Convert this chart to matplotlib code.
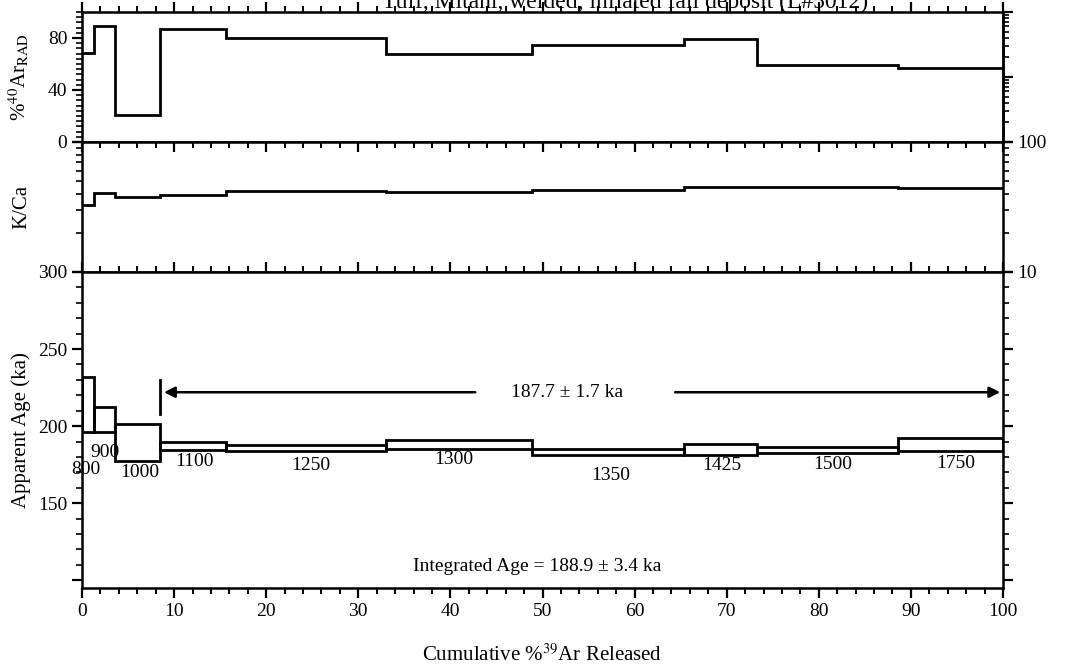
import matplotlib.pyplot as plt
from matplotlib.ticker import MultipleLocator, NullFormatter, FixedLocator
import numpy as np

plt.rcParams['font.family'] = ['Liberation Serif', 'DejaVu Serif']
plt.rcParams['mathtext.fontset'] = 'stix'

# heating steps
temps = ['800', '900', '1000', '1100', '1250', '1300', '1350', '1425', '1500', '1750']
cum39 = [0, 1.3, 3.6, 8.5, 15.6, 33.0, 48.9, 65.4, 73.3, 88.6, 100]
rad40 = [68.2, 89.2, 20.8, 87.0, 80.1, 67.5, 74.7, 79.2, 59.2, 56.7]
k_ca = [32.8, 40.3, 37.6, 39.4, 41.9, 41.3, 42.8, 44.7, 45.2, 44.0]
age = [214.0, 204.2, 189.6, 186.9, 185.7, 188.0, 183.2, 184.9, 184.7, 188.0]
age_err = [17.8, 8.3, 11.9, 2.5, 1.8, 3.0, 2.0, 3.5, 1.8, 4.0]

# temperature label positions (x in cumulative %, y in ka)
lab_x = [0.4, 2.5, 6.3, 12.2, 24.8, 40.4, 57.4, 69.5, 81.5, 94.9]
lab_y = [172.1, 183.1, 170.1, 177.1, 174.3, 178.2, 167.8, 174.2, 175.3, 175.8]

plateau_age = 187.7
plateau_err = 1.7
int_age = 188.9
int_err = 3.4

W, H = 1069, 666
fig = plt.figure(figsize=(W / 100, H / 100), dpi=100)

def box(top, bottom):
    return [82 / W, 1 - bottom / H, (1003 - 82) / W, (bottom - top) / H]

ax1 = fig.add_axes(box(12, 142))
ax2 = fig.add_axes(box(142, 272))
ax3 = fig.add_axes(box(272, 588))

lw = 2.0
edges = np.array(cum39)
ax1.stairs(rad40, edges, baseline=None, color='k', lw=lw)
ax2.stairs(k_ca, edges, baseline=None, color='k', lw=lw)

lo = np.array(age) - np.array(age_err)
ax3.bar(edges[:-1], 2 * np.array(age_err), bottom=lo, width=np.diff(edges),
        align='edge', fill=False, edgecolor='k', lw=lw)

for t, x, y in zip(temps, lab_x, lab_y):
    ax3.text(x, y, t, ha='center', va='center', fontsize=14)

# plateau arrows
ax3.plot([8.5, 8.5], [208, 230], color='k', lw=lw)
ax3.annotate('', xy=(8.6, 222), xytext=(43.0, 222),
             arrowprops=dict(arrowstyle='-|>', color='k', lw=1.8, mutation_scale=16))
ax3.annotate('', xy=(100, 222), xytext=(64.1, 222),
             arrowprops=dict(arrowstyle='-|>', color='k', lw=1.8, mutation_scale=16))
ax3.text(52.7, 222, f'{plateau_age} ± {plateau_err} ka', ha='center', va='center', fontsize=14)
ax3.text(49.4, 109, f'Integrated Age = {int_age} ± {int_err} ka', ha='center', va='center', fontsize=14)

for ax in (ax1, ax2, ax3):
    ax.set_xlim(0, 100)
    ax.xaxis.set_major_locator(MultipleLocator(10))
    ax.xaxis.set_minor_locator(MultipleLocator(2))
    for s in ax.spines.values():
        s.set_linewidth(1.8)

ax1.set_ylim(0, 100)
ax1.yaxis.set_major_locator(FixedLocator([0, 40, 80]))
ax1.yaxis.set_minor_locator(MultipleLocator(4))
ax1.tick_params(axis='x', which='both', top=True, bottom=False, labelbottom=False, direction='out')
ax1.tick_params(axis='x', which='major', length=7, width=1.6)
ax1.tick_params(axis='x', which='minor', length=4, width=1.4)
ax1.tick_params(axis='y', which='major', length=7, width=1.6, labelsize=14, direction='out')
ax1.tick_params(axis='y', which='minor', length=4, width=1.2, direction='out')
ax1.set_ylabel('%$^{40}$Ar$_{\\rm RAD}$', fontsize=15, labelpad=4)
ax1r = ax1.twinx()
ax1r.set_yscale('log')
ax1r.set_ylim(10, 1000)
ax1r.yaxis.set_major_formatter(NullFormatter())
ax1r.yaxis.set_minor_formatter(NullFormatter())
ax1r.tick_params(which='major', length=7, width=1.6, direction='out')
ax1r.tick_params(which='minor', length=4, width=1.2, direction='out')
ax1r.spines['right'].set_linewidth(1.8)

ax2.set_yscale('log')
ax2.set_ylim(10, 100)
ax2.yaxis.set_minor_formatter(NullFormatter())
ax2.tick_params(axis='y', which='major', left=True, right=True, labelright=True, labelleft=False,
                length=7, width=1.6, labelsize=14, direction='out')
ax2.tick_params(axis='y', which='minor', left=True, right=True, length=4, width=1.2, direction='out')
ax2.yaxis.set_major_formatter(plt.FuncFormatter(lambda v, p: f'{v:.0f}'))
ax2.tick_params(axis='x', which='both', top=True, bottom=False, labelbottom=False, direction='in')
ax2.tick_params(axis='x', which='major', length=7, width=1.6)
ax2.tick_params(axis='x', which='minor', length=4, width=1.4)
ax2.set_ylabel('K/Ca', fontsize=15, labelpad=22)

ax3.set_ylim(95, 300)
ax3.yaxis.set_major_locator(MultipleLocator(50))
ax3.yaxis.set_minor_locator(MultipleLocator(10))
ax3.tick_params(axis='y', which='both', left=True, right=True, direction='out')
ax3.tick_params(axis='y', which='major', length=7, width=1.6, labelsize=14)
ax3.tick_params(axis='y', which='minor', length=4, width=1.2)
ax3.yaxis.set_major_formatter(plt.FuncFormatter(lambda v, p: f'{v:.0f}' if v >= 150 else ''))
ax3.tick_params(axis='x', which='both', top=True, bottom=True, labelsize=14)
ax3.tick_params(axis='x', which='major', length=7, width=1.6)
ax3.tick_params(axis='x', which='minor', length=4, width=1.4)
ax3.set_ylabel('Apparent Age (ka)', fontsize=15, labelpad=4)
ax3.set_xlabel('Cumulative %$^{39}$Ar Released', fontsize=15, labelpad=18)

for ax in (ax1, ax2, ax3):
    ax.yaxis.set_label_coords(-0.055, 0.5)

fig.text(625 / W, 1 - 8 / H, 'Tuff, Mitani, welded, inflated fall deposit (L#5012)',
         ha='center', va='baseline', fontsize=17)

fig.savefig('out.png', dpi=100)
